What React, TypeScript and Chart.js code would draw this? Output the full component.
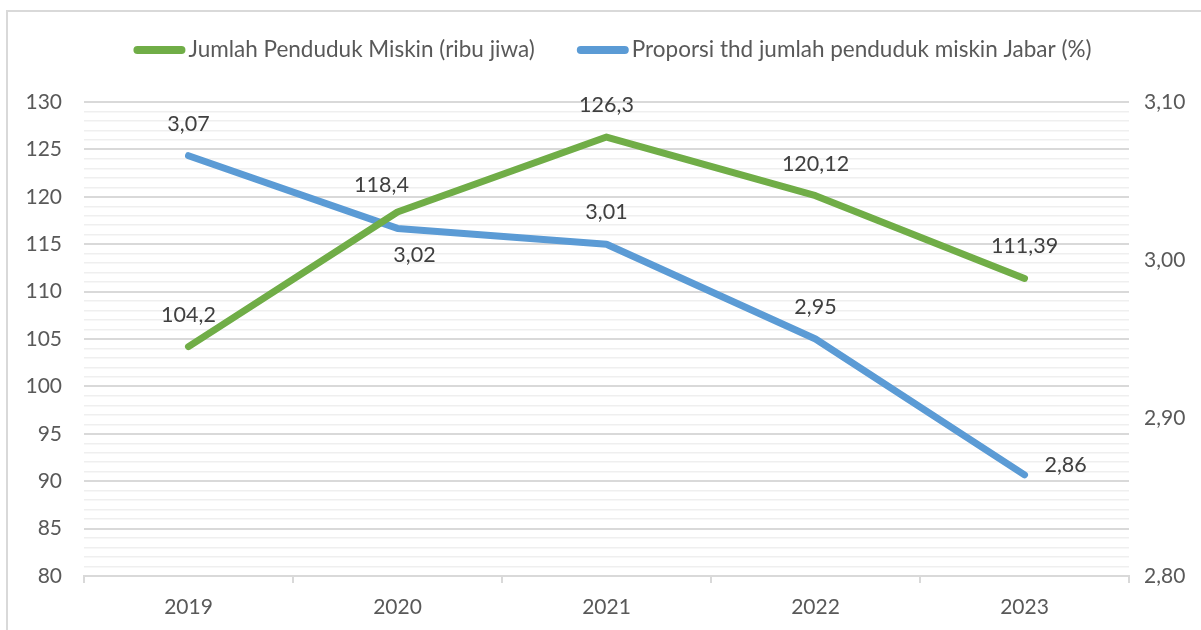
import React, { useEffect, useRef } from "react";
import { Chart, registerables } from "chart.js";

Chart.register(...registerables);

const years = ["2019", "2020", "2021", "2022", "2023"];
const poorPopulation = [104.2, 118.4, 126.3, 120.12, 111.39];
const povertyShare = [3.066, 3.02, 3.01, 2.95, 2.864];
const poorPopulationLabelPos = ["top", "topleft", "top", "top", "top"];
const povertyShareLabelPos = ["top", "bottomright", "top", "top", "right"];
const seriesNames = [
  "Jumlah Penduduk Miskin (ribu jiwa)",
  "Proporsi thd jumlah penduduk miskin Jabar (%)",
];

const FONT = "Lato, 'Open Sans', sans-serif";
const GREEN = "#70ad47";
const BLUE = "#5b9bd5";
const TEXT = "#595959";
const LABEL = "#404040";

const valueLabelPlugin = {
  id: "valueLabels",
  afterDatasetsDraw(chart: any) {
    const ctx = chart.ctx;
    ctx.save();
    ctx.font = `21.5px ${FONT}`;
    ctx.fillStyle = LABEL;
    chart.data.datasets.forEach((ds: any, di: number) => {
      const meta = chart.getDatasetMeta(di);
      meta.data.forEach((pt: any, i: number) => {
        const text = ds.labelFmt(ds.data[i]);
        const pos = ds.labelPos[i];
        let x = pt.x;
        let y = pt.y;
        ctx.textBaseline = "middle";
        ctx.textAlign = "center";
        if (pos === "top") y -= 32;
        else if (pos === "topleft") {
          y -= 27;
          x -= 16;
        } else if (pos === "bottom") y += 27;
        else if (pos === "bottomright") {
          y += 27;
          x += 17;
        } else if (pos === "right") {
          ctx.textAlign = "left";
          x += 20;
          y -= 10;
        }
        ctx.fillText(text, x, y);
      });
    });
    ctx.restore();
  },
  afterDraw(chart: any) {
    // legend
    const ctx = chart.ctx;
    ctx.save();
    ctx.font = `22.5px ${FONT}`;
    const keyW = 52;
    const gap = 3;
    const itemGap = 42;
    const items = chart.data.datasets.map((ds: any) => ({
      label: ds.label,
      color: ds.borderColor,
      w: keyW + gap + ctx.measureText(ds.label).width,
    }));
    const total =
      items.reduce((s: number, it: any) => s + it.w, 0) +
      itemGap * (items.length - 1);
    const ca = chart.chartArea;
    let x = (ca.left + ca.right) / 2 + 6 - total / 2;
    const y = 50;
    items.forEach((it: any) => {
      ctx.strokeStyle = it.color;
      ctx.lineWidth = 8;
      ctx.lineCap = "round";
      ctx.beginPath();
      ctx.moveTo(x + 4, y);
      ctx.lineTo(x + keyW - 4, y);
      ctx.stroke();
      ctx.fillStyle = TEXT;
      ctx.textAlign = "left";
      ctx.textBaseline = "middle";
      ctx.fillText(it.label, x + keyW + gap, y);
      x += it.w + itemGap;
    });
    ctx.restore();
  },
};

export default function App() {
  const canvasRef = useRef<HTMLCanvasElement | null>(null);

  useEffect(() => {
    if (!canvasRef.current) return;
    const chart = new Chart(canvasRef.current, {
      type: "line",
      data: {
        labels: years,
        datasets: [
          {
            label: seriesNames[0],
            data: poorPopulation,
            borderColor: GREEN,
            backgroundColor: GREEN,
            borderWidth: 7,
            borderCapStyle: "round",
            borderJoinStyle: "round",
            pointRadius: 0,
            tension: 0,
            yAxisID: "y",
            labelPos: poorPopulationLabelPos,
            labelFmt: (v: number) => String(v).replace(".", ","),
          } as any,
          {
            label: seriesNames[1],
            data: povertyShare,
            borderColor: BLUE,
            backgroundColor: BLUE,
            borderWidth: 7,
            borderCapStyle: "round",
            borderJoinStyle: "round",
            pointRadius: 0,
            tension: 0,
            yAxisID: "y1",
            labelPos: povertyShareLabelPos,
            labelFmt: (v: number) => v.toFixed(2).replace(".", ","),
          } as any,
        ],
      },
      options: {
        responsive: false,
        animation: false,
        devicePixelRatio: 1,
        layout: { padding: { top: 102, left: 0, right: 0, bottom: 0 } },
        plugins: {
          legend: { display: false },
          tooltip: { enabled: false },
        },
        scales: {
          x: {
            offset: true,
            grid: {
              offset: true,
              drawOnChartArea: false,
              drawTicks: true,
              tickLength: 7,
              color: "#d9d9d9",
              lineWidth: 2,
            },
            border: { display: true, color: "#d9d9d9", width: 2 },
            ticks: {
              color: TEXT,
              font: { family: FONT, size: 21 },
              padding: 12,
            },
            afterFit(scale: any) {
              scale.height = 54;
            },
          },
          y: {
            position: "left",
            min: 80,
            max: 130,
            border: { display: false },
            grid: {
              drawTicks: false,
              color: (c: any) =>
                c.tick && c.tick.value % 5 === 0 ? "#d9d9d9" : "#efefef",
              lineWidth: (c: any) =>
                c.tick && c.tick.value % 5 === 0 ? 2 : 1.5,
            },
            ticks: {
              stepSize: 1,
              autoSkip: false,
              color: TEXT,
              font: { family: FONT, size: 21 },
              padding: 22,
              callback: (v: any) => (Number(v) % 5 === 0 ? String(v) : ""),
            },
            afterFit(scale: any) {
              scale.width = 84;
            },
          },
          y1: {
            position: "right",
            min: 2.8,
            max: 3.1,
            border: { display: false },
            grid: { drawOnChartArea: false, drawTicks: false },
            afterBuildTicks(scale: any) {
              scale.ticks = [2.8, 2.9, 3.0, 3.1].map((v) => ({ value: v }));
            },
            ticks: {
              color: TEXT,
              font: { family: FONT, size: 21 },
              padding: 15,
              callback: (v: any) => Number(v).toFixed(2).replace(".", ","),
            },
            afterFit(scale: any) {
              scale.width = 72;
            },
          },
        },
      } as any,
      plugins: [valueLabelPlugin],
    });
    return () => chart.destroy();
  }, []);

  return (
    <div
      style={{
        position: "absolute",
        left: 0,
        top: 0,
        width: 1201,
        height: 630,
        overflow: "hidden",
        background: "#ffffff",
      }}
    >
      <div
        style={{
          position: "absolute",
          left: 6,
          top: 10,
          width: 1260,
          height: 700,
          border: "2px solid #d9d9d9",
          boxSizing: "border-box",
        }}
      />
      <canvas
        ref={canvasRef}
        width={1201}
        height={630}
        style={{ position: "absolute", left: 0, top: 0, width: 1201, height: 630 }}
      />
    </div>
  );
}
